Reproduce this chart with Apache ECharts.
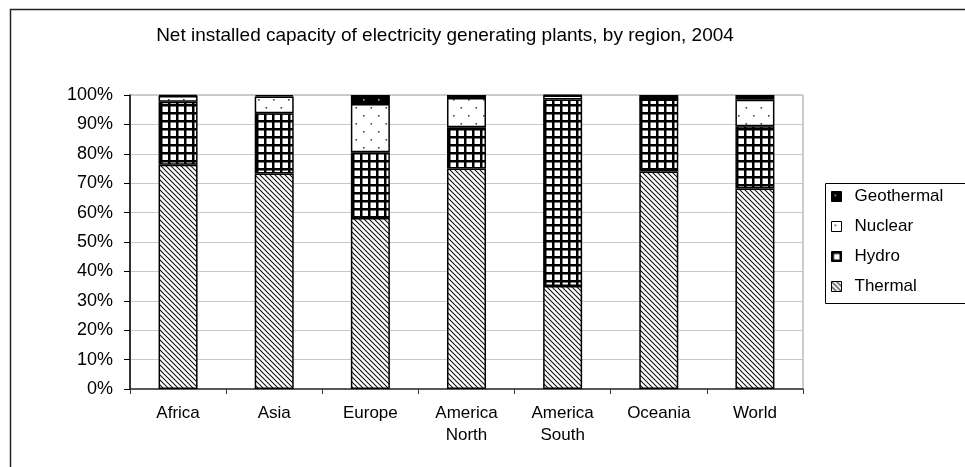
<!DOCTYPE html>
<html>
<head>
<meta charset="utf-8">
<script src="https://cdn.jsdelivr.net/npm/echarts@6/dist/echarts.min.js"></script>
<style>
html,body{margin:0;padding:0;background:#fff;}
#chart{width:965px;height:467px;}
</style>
</head>
<body>
<div id="chart"></div>
<script>
var titleText = 'Net installed capacity of electricity generating plants, by region, 2004';
var categories = ['Africa', 'Asia', 'Europe', 'America\nNorth', 'America\nSouth', 'Oceania', 'World'];
var thermal    = [76.3, 73.3, 58.2, 75.0, 35.0, 74.0, 68.2];
var hydro      = [21.4, 20.5, 22.3, 14.0, 63.5, 24.5, 21.2];
var nuclear    = [2.0, 5.7, 16.4, 10.0, 1.3, 0, 9.0];
var geothermal = [0.3, 0.5, 3.1, 1.0, 0.2, 1.5, 1.6];
var yTicks = { min: 0, max: 100, interval: 10 };

function makeCanvas(w, h, draw) {
  var c = document.createElement('canvas');
  c.width = w; c.height = h;
  var ctx = c.getContext('2d');
  draw(ctx, w, h);
  return c;
}
var thermalPat = makeCanvas(5, 5, function (ctx, w, h) {
  ctx.fillStyle = '#fff'; ctx.fillRect(0, 0, w, h);
  ctx.strokeStyle = '#111'; ctx.lineWidth = 1.1;
  [-5, 0, 5].forEach(function (o) {
    ctx.beginPath(); ctx.moveTo(o - 1, -1); ctx.lineTo(o + w + 1, h + 1); ctx.stroke();
  });
});
var hydroPat = makeCanvas(8, 8, function (ctx, w, h) {
  ctx.fillStyle = '#fff'; ctx.fillRect(0, 0, w, h);
  ctx.fillStyle = '#000';
  ctx.fillRect(0, 0, w, 2.5);
  ctx.fillRect(0, 0, 2.5, h);
});
var nuclearPat = makeCanvas(15, 16, function (ctx, w, h) {
  ctx.fillStyle = '#fff'; ctx.fillRect(0, 0, w, h);
  ctx.fillStyle = '#444';
  ctx.fillRect(3, 3, 1.6, 1.6);
  ctx.fillRect(10.5, 11, 1.6, 1.6);
});
var geoPat = makeCanvas(15, 16, function (ctx, w, h) {
  ctx.fillStyle = '#000'; ctx.fillRect(0, 0, w, h);
  ctx.fillStyle = '#aaa';
  ctx.fillRect(3, 3, 1.6, 1.6);
  ctx.fillRect(10.5, 11, 1.6, 1.6);
});
function pat(c) { return { image: c, repeat: 'repeat' }; }

var FONT = 'Liberation Sans, Arial, sans-serif';
function seriesOf(name, data, p) {
  return {
    name: name, type: 'bar', stack: 'total', data: data, barWidth: 39,
    itemStyle: { color: pat(p), borderColor: '#000', borderWidth: 1.5 },
    emphasis: { disabled: true }
  };
}

var chart = echarts.init(document.getElementById('chart'), null, { renderer: 'canvas' });
chart.setOption({
  animation: false,
  backgroundColor: '#fff',
  textStyle: { fontFamily: FONT },
  graphic: [
    { type: 'rect', shape: { x: 10.5, y: 9.5, width: 1000, height: 600 },
      style: { fill: 'none', stroke: '#222', lineWidth: 1.5 }, silent: true },
    { type: 'rect', shape: { x: 825.5, y: 183.5, width: 200, height: 120 },
      style: { fill: 'none', stroke: '#000', lineWidth: 1 }, silent: true },
    { type: 'text', x: 445, y: 36,
      style: { text: titleText, fill: '#000', font: '19px ' + FONT, textAlign: 'center', textVerticalAlign: 'middle' } }
  ],
  grid: { left: 130, right: 162, top: 95, bottom: 78, show: true, borderColor: '#999', borderWidth: 1, containLabel: false },
  legend: {
    orient: 'vertical', left: 831, top: 188, padding: 0,
    icon: 'rect',
    itemWidth: 10, itemHeight: 10, itemGap: 13,
    data: ['Geothermal', 'Nuclear', 'Hydro', 'Thermal'],
    itemStyle: { borderWidth: 1, borderColor: '#000' },
    textStyle: { fontSize: 17, color: '#000', fontFamily: FONT, lineHeight: 17, padding: [0, 0, 0, 8] },
    selectedMode: false
  },
  xAxis: {
    type: 'category', data: categories,
    axisLine: { lineStyle: { color: '#333', width: 1.5 } },
    axisTick: { show: true, length: 5, lineStyle: { color: '#333' } },
    axisLabel: { color: '#000', fontSize: 17, fontFamily: FONT, margin: 13, lineHeight: 22 }
  },
  yAxis: {
    type: 'value', min: yTicks.min, max: yTicks.max, interval: yTicks.interval,
    axisLine: { show: true, lineStyle: { color: '#000', width: 1.5 } },
    axisTick: { show: true, length: 6, lineStyle: { color: '#000' } },
    axisLabel: { color: '#000', fontSize: 18, fontFamily: FONT, margin: 17, formatter: '{value}%' },
    splitLine: { lineStyle: { color: '#c8c8c8', width: 1 } }
  },
  series: [
    seriesOf('Thermal', thermal, thermalPat),
    seriesOf('Hydro', hydro, hydroPat),
    seriesOf('Nuclear', nuclear, nuclearPat),
    seriesOf('Geothermal', geothermal, geoPat)
  ]
});
</script>
</body>
</html>
